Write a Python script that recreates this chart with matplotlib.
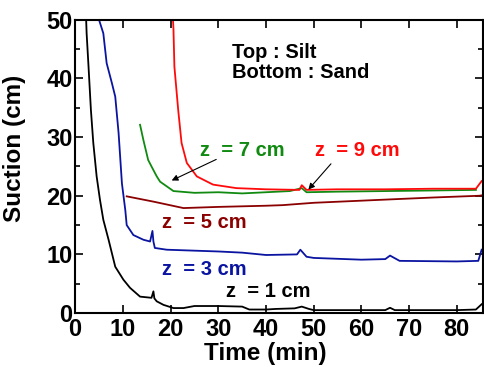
import matplotlib.pyplot as plt
import matplotlib.transforms as mtransforms
from matplotlib.ticker import MultipleLocator

plt.rcParams['font.family'] = ['Liberation Sans', 'DejaVu Sans']
plt.rcParams['font.weight'] = 'bold'

# z = 1 cm
t1 = [2.3, 2.4, 2.8, 3.3, 3.8, 4.5, 5.2, 5.9, 7.0, 8.4, 10.1, 11.5, 13.6, 16.0, 16.4, 16.6,
      17.1, 18.5, 20.6, 22.7, 25, 30, 35, 36.5, 40, 42, 46, 47.5, 49, 50, 60, 65, 66, 67,
      80, 84, 85.2]
s1 = [50, 47.7, 42, 34.6, 29, 23.3, 19.3, 15.9, 12.5, 7.9, 5.7, 4.3, 2.8, 2.6, 3.7, 2.5,
      2.0, 1.4, 0.85, 0.85, 1.2, 1.2, 1.1, 0.6, 0.6, 0.7, 0.8, 1.1, 0.7, 0.5, 0.5, 0.5, 0.9, 0.5,
      0.5, 0.6, 1.5]

# z = 3 cm
t3 = [5.0, 5.9, 6.6, 7.7, 8.4, 9.1, 9.8, 10.5, 10.8, 12.2, 14.3, 15.7, 16.2, 16.4, 16.7,
      19.2, 30, 35, 40, 46.5, 47.2, 48.5, 50, 60, 65, 66, 68, 80, 84.5, 85.2]
s3 = [50, 47.7, 42.6, 39.2, 36.9, 30.7, 22.1, 17.6, 15.0, 13.3, 12.5, 12.2, 14.0, 12.2, 11.1,
      10.8, 10.5, 10.3, 9.9, 10.0, 10.8, 9.6, 9.4, 9.1, 9.2, 9.8, 8.9, 8.8, 8.9, 10.8]

# z = 5 cm
t5 = [10.8, 16.4, 22.7, 30, 40, 43.5, 50, 63.8, 75, 84.7, 85.5]
s5 = [19.9, 19.0, 17.9, 18.1, 18.3, 18.4, 18.8, 19.3, 19.7, 20.0, 20.1]

# z = 7 cm
t7 = [13.6, 14.3, 15.3, 16.0, 17.1, 17.8, 20.6, 25, 30, 35, 40, 45, 47.5, 48.5, 55, 65, 75,
      84]
s7 = [32.1, 29.5, 26.1, 25.0, 23.3, 22.4, 20.8, 20.5, 20.6, 20.4, 20.6, 20.8, 21.3, 20.6,
      20.7, 20.8, 20.9, 21.0]

# z = 9 cm
t9 = [20.5, 20.6, 20.8, 21.6, 22.3, 23.4, 25.5, 28.9, 33.8, 40, 47, 47.5, 48.5, 55, 65, 75,
      84, 85.2]
s9 = [50, 48.5, 42, 34.6, 29, 25.6, 23.3, 21.9, 21.3, 21.1, 21.0, 21.8, 21.0, 21.1, 21.1,
      21.2, 21.2, 22.5]

fig, ax = plt.subplots(figsize=(4.85, 3.67), dpi=100)
fig.subplots_adjust(left=0.155, right=0.996, top=0.946, bottom=0.147)

ax.plot(t1, s1, color='black', lw=1.3)
ax.plot(t3, s3, color='#0a14a0', lw=1.3)
ax.plot(t5, s5, color='#8b0000', lw=1.3)
ax.plot(t7, s7, color='#108a10', lw=1.3)
ax.plot(t9, s9, color='#ff0a0a', lw=1.3)

ax.set_xlim(0, 85.5)
ax.set_ylim(0, 50)
ax.xaxis.set_major_locator(MultipleLocator(10))
ax.yaxis.set_major_locator(MultipleLocator(10))
ax.yaxis.set_minor_locator(MultipleLocator(5))
ax.tick_params(which='both', direction='in', top=True, right=True, width=1.2)
ax.tick_params(which='major', length=6, labelsize=17)
ax.tick_params(axis='x', which='major', pad=3.5)
ax.tick_params(axis='y', which='major', pad=2)
ax.tick_params(which='minor', length=3.5)
for lab in ax.get_xticklabels() + ax.get_yticklabels():
    lab.set_fontweight('bold')
for sp in ax.spines.values():
    sp.set_linewidth(1.5)

# nudge the y "0" up a little, like in the original, so it sits above the x "0"
fig.canvas.draw()
ylab0 = ax.get_yticklabels()[0]
ylab0.set_transform(ylab0.get_transform() +
                    mtransforms.ScaledTranslation(0, 3 / 72, fig.dpi_scale_trans))

ax.set_xlabel('Time (min)', fontsize=17.5, fontweight='bold', labelpad=1)
ax.set_ylabel('Suction (cm)', fontsize=17.5, fontweight='bold', labelpad=1)
ax.xaxis.set_label_coords(0.466, -0.1)
ax.yaxis.set_label_coords(-0.12, 0.56)

ax.text(32.8, 44.5, 'Top : Silt', fontsize=14.5, fontweight='bold', va='center')
ax.text(32.8, 41.1, 'Bottom : Sand', fontsize=14.5, fontweight='bold', va='center')

ax.text(26.2, 27.8, 'z  = 7 cm', fontsize=14.5, fontweight='bold', color='#108a10', va='center')
ax.text(50.2, 27.8, 'z  = 9 cm', fontsize=14.5, fontweight='bold', color='#ff0a0a', va='center')
ax.text(18.1, 15.4, 'z  = 5 cm', fontsize=14.5, fontweight='bold', color='#8b0000', va='center')
ax.text(18.1, 7.4, 'z  = 3 cm', fontsize=14.5, fontweight='bold', color='#0a14a0', va='center')
ax.text(31.7, 3.7, 'z  = 1 cm', fontsize=14.5, fontweight='bold', color='black', va='center')

arrow = dict(arrowstyle='-|>', color='black', lw=0.8, mutation_scale=9)
ax.annotate('', xy=(19.7, 22.4), xytext=(30.1, 26.4), arrowprops=arrow)
ax.annotate('', xy=(48.5, 20.7), xytext=(54.0, 25.8), arrowprops=arrow)

fig.savefig('out.png', dpi=100)
